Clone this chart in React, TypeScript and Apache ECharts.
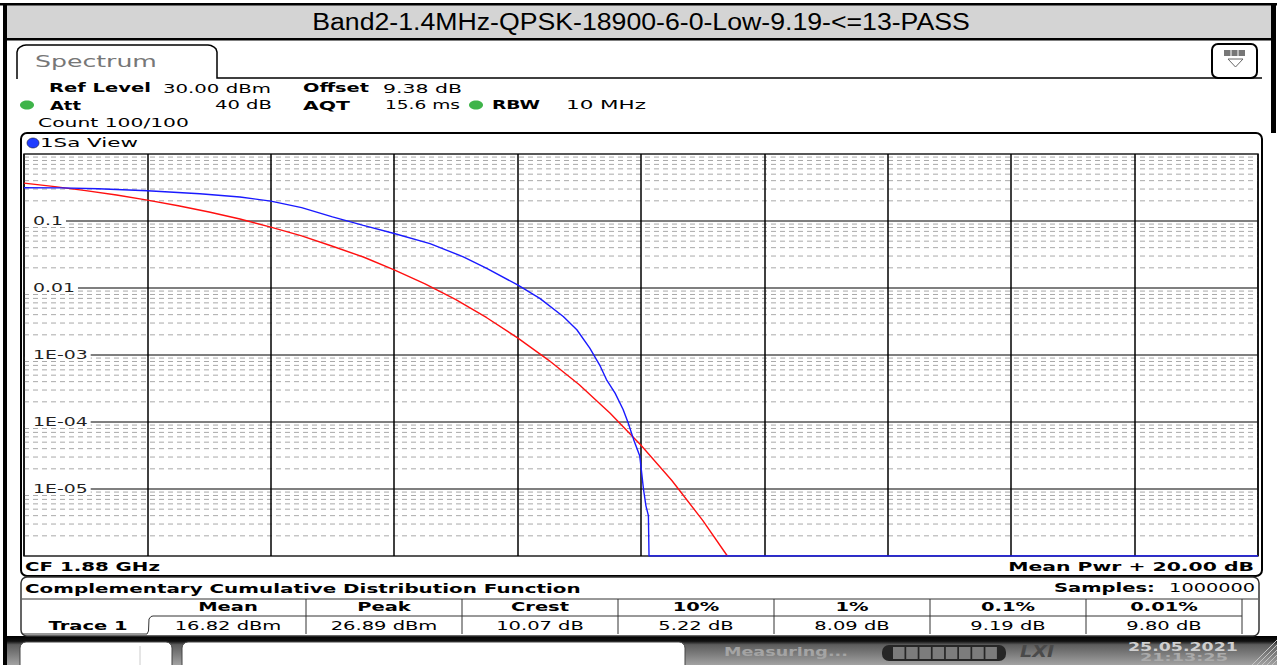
import React, { useEffect, useRef } from 'react';
import * as echarts from 'echarts';

const W = 1277;
const H = 665;

const titleText = 'Band2-1.4MHz-QPSK-18900-6-0-Low-9.19-<=13-PASS';

// x axis: level above mean power, dB (Mean Pwr + 20.00 dB span, 2 dB/div)
const xMin = 0;
const xMax = 20;
const xStep = 2;
// y axis: probability (log)
const yMin = 1e-6;
const yMax = 1;
const yLabelValues = [0.1, 0.01, 0.001, 0.0001, 0.00001];
const yLabelTexts = ['0.1', '0.01', '1E-03', '1E-04', '1E-05'];
const minorMultipliers = [2, 3, 4, 5, 6, 7, 8, 9];
const minorDecades = [1e-6, 1e-5, 1e-4, 1e-3, 1e-2, 1e-1];

// reference (gaussian) curve – red
const refX = [0, 0.5, 1, 1.5, 2, 2.5, 3, 3.5, 4, 4.5, 5, 5.5, 6, 6.5, 7, 7.5, 8, 8.5, 9, 9.5, 10, 10.5, 11, 11.4];
const refP = [0.368, 0.326, 0.284, 0.244, 0.205, 0.169, 0.136, 0.107, 0.081, 0.06, 0.042, 0.029, 0.0187, 0.0115, 0.0067, 0.0036, 0.0018, 0.00084, 0.00036, 0.000135, 0.000045, 0.0000134, 0.0000034, 0.000001];

// measured trace – blue
const trcX = [0, 0.6, 1.2, 2.0, 2.85, 3.5, 4.0, 4.5, 5.0, 5.5, 6.0, 6.58, 7.12, 7.5, 8.0, 8.36, 8.74, 8.96, 9.17, 9.34, 9.44, 9.58, 9.71, 9.79, 9.88, 9.98, 10.01, 10.04, 10.08, 10.12, 10.13, 20];
const trcP = [0.313, 0.312, 0.303, 0.283, 0.255, 0.228, 0.198, 0.158, 0.115, 0.086, 0.065, 0.046, 0.0292, 0.0196, 0.0111, 0.007, 0.00375, 0.00238, 0.00127, 0.00068, 0.00043, 0.00027, 0.000154, 0.000098, 0.000055, 0.000031, 0.0000177, 0.00001, 0.0000056, 0.000004, 0.000001, 0.000001];

// statistics table
const statHeaders = ['Mean', 'Peak', 'Crest', '10%', '1%', '0.1%', '0.01%'];
const statValues = ['16.82 dBm', '26.89 dBm', '10.07 dB', '5.22 dB', '8.09 dB', '9.19 dB', '9.80 dB'];

let mctx: CanvasRenderingContext2D | null = null;
function measure(text: string, font: string): number {
  if (!mctx) mctx = document.createElement('canvas').getContext('2d');
  if (!mctx) return text.length * 8;
  mctx.font = font;
  return mctx.measureText(text).width;
}

type TOpt = {
  align?: 'left' | 'center' | 'right';
  bold?: boolean;
  italic?: boolean;
  size?: number;
  fill?: string;
  family?: string;
  width?: number;
  sx?: number;
  z?: number;
};

function txt(text: string, x: number, y: number, o: TOpt = {}) {
  const size = o.size ?? 13;
  const family = o.family ?? "'DejaVu Sans'";
  const font = `${o.italic ? 'italic ' : ''}${o.bold ? 'bold ' : ''}${size}px ${family}`;
  const w = measure(text, font);
  const sx = o.width ? o.width / w : o.sx ?? 1.5;
  const align = o.align ?? 'left';
  return {
    type: 'text',
    x,
    y,
    scaleX: sx,
    z: o.z ?? 10,
    silent: true,
    style: {
      text,
      font,
      fill: o.fill ?? '#000',
      textAlign: align,
      align,
      textVerticalAlign: 'middle',
      verticalAlign: 'middle',
    },
  };
}

function rect(x: number, y: number, w: number, h: number, style: any, r: any = 0, z = 5) {
  return { type: 'rect', z, silent: true, shape: { x, y, width: w, height: h, r }, style };
}

function line(x1: number, y1: number, x2: number, y2: number, stroke: string, lw = 1, z = 6) {
  return { type: 'line', z, silent: true, shape: { x1, y1, x2, y2 }, style: { stroke, lineWidth: lw } };
}

function chrome(): any[] {
  const els: any[] = [];
  // outer frame + title bar
  els.push(rect(7, 5, 1264, 33, { fill: '#d4d4d4' }));
  els.push(rect(0, 3, W, 2.5, { fill: '#000' }));
  els.push(rect(7, 38, 1264, 2.5, { fill: '#000' }));
  els.push(rect(3, 3, 4, H, { fill: '#000' }));
  els.push(rect(1271, 3, 5, 130, { fill: '#000' }));
  els.push(txt(titleText, 641, 22, { align: 'center', family: "'Liberation Sans', Arial", size: 23, width: 658 }));

  // spectrum tab
  els.push({
    type: 'polyline', z: 6, silent: true,
    shape: { points: [[17, 79], [17, 52], [18, 49], [20, 47], [23, 45.5], [26, 45], [208, 45], [211, 45.5], [214, 47], [216, 49], [217, 52], [217, 78], [1262, 78]] },
    style: { stroke: '#000', lineWidth: 1.5, fill: 'none' },
  });
  els.push(txt('Spectrum', 35, 62, { size: 15, width: 122, fill: '#777' }));
  // menu icon
  els.push(rect(1212, 44, 45, 34, { fill: '#fff', stroke: '#000', lineWidth: 2 }, 6, 7));
  els.push(rect(1224, 50, 21, 6, { fill: '#777' }, 0, 8));
  els.push(line(1231, 50, 1231, 56, '#fff', 1, 9));
  els.push(line(1238, 50, 1238, 56, '#fff', 1, 9));
  els.push({ type: 'polygon', z: 8, silent: true, shape: { points: [[1228, 59], [1243, 59], [1235.5, 67]] }, style: { fill: 'none', stroke: '#666', lineWidth: 1 } });

  // settings header
  els.push(txt('Ref Level', 49, 88, { bold: true, width: 102 }));
  els.push(txt('30.00 dBm', 163, 88, { width: 108 }));
  els.push(txt('Offset', 303, 88, { bold: true, width: 66 }));
  els.push(txt('9.38 dB', 383, 88, { width: 79 }));
  els.push({ type: 'ellipse', z: 8, silent: true, shape: { cx: 27, cy: 105, rx: 7, ry: 4.5 }, style: { fill: '#3fb44a' } });
  els.push(txt('Att', 50, 105, { bold: true, width: 31 }));
  els.push(txt('40 dB', 215, 105, { width: 57 }));
  els.push(txt('AQT', 303, 105, { bold: true, width: 47 }));
  els.push(txt('15.6 ms', 385, 105, { width: 75 }));
  els.push({ type: 'ellipse', z: 8, silent: true, shape: { cx: 476, cy: 105, rx: 7, ry: 4.5 }, style: { fill: '#3fb44a' } });
  els.push(txt('RBW', 492, 105, { bold: true, width: 48 }));
  els.push(txt('10 MHz', 566, 105, { width: 80 }));
  els.push(txt('Count 100/100', 38, 122, { width: 151 }));

  // 1Sa View panel
  els.push(rect(21, 133, 1241, 443, { fill: 'none', stroke: '#000', lineWidth: 2 }, 6, 6));
  els.push({ type: 'ellipse', z: 8, silent: true, shape: { cx: 33, cy: 143, rx: 6, ry: 5 }, style: { fill: '#1f3cff', stroke: '#223', lineWidth: 0.6 } });
  els.push(txt('1Sa View', 40, 143, { width: 98 }));
  els.push(txt('CF 1.88 GHz', 25, 566, { bold: true, width: 135 }));
  els.push(txt('Mean Pwr + 20.00 dB', 1254, 566, { bold: true, align: 'right', width: 246 }));

  // statistics panel
  els.push(rect(21, 577, 1238, 59, { fill: 'none', stroke: '#333', lineWidth: 1.5 }, 6, 6));
  els.push(txt('Complementary Cumulative Distribution Function', 25, 588, { bold: true, width: 556 }));
  els.push(txt('Samples:', 1054, 588, { bold: true, width: 101 }));
  els.push(txt('1000000', 1255, 588, { align: 'right', width: 86 }));
  els.push(line(22, 599, 1258, 599, '#333', 1));
  const colX0 = 150;
  const colW = 156;
  for (let i = 0; i < statHeaders.length - 1; i++) {
    const x = colX0 + colW * (i + 1);
    els.push(line(x, 599, x, 634, '#333', 1));
  }
  els.push(line(colX0 + colW * 7, 599, colX0 + colW * 7, 634, '#333', 1));
  els.push({
    type: 'polyline', z: 6, silent: true,
    shape: { points: [[23, 634], [147, 634], [148.5, 631], [149, 619], [151, 616.5], [153, 616], [1242, 616]] },
    style: { stroke: '#333', lineWidth: 1, fill: 'none' },
  });
  els.push(txt('Trace 1', 88, 626, { bold: true, align: 'center' }));
  statHeaders.forEach((h, i) => {
    const cx = colX0 + colW * i + colW / 2;
    els.push(txt(h, cx, 607, { bold: true, align: 'center' }));
    els.push(txt(statValues[i], cx, 626, { align: 'center' }));
  });

  // status bar
  els.push(rect(7, 636, W - 7, 29, {
    fill: new echarts.graphic.LinearGradient(0, 0, 0, 1, [
      { offset: 0, color: '#000' },
      { offset: 0.18, color: '#111' },
      { offset: 0.3, color: '#5c5c5c' },
      { offset: 1, color: '#a2a2a2' },
    ]),
  }, 0, 4));
  els.push(rect(20, 642, 152, 30, { fill: '#fff', stroke: '#444', lineWidth: 1 }, 6, 6));
  els.push(line(140, 646, 140, 665, '#ccc', 1, 7));
  els.push(rect(182, 642, 503, 30, { fill: '#fff', stroke: '#444', lineWidth: 1 }, 6, 6));
  els.push(txt('Measuring...', 724, 652, { bold: true, size: 12, width: 124, fill: '#a4a4a4' }));
  els.push(rect(882, 645, 124, 16, { fill: '#262626' }, 7, 6));
  for (let i = 0; i < 8; i++) {
    els.push(rect(893 + i * 13.2, 647, 11.5, 12, { fill: '#7c7c7c' }, 0, 7));
  }
  els.push(txt('LXI', 1020, 652, { bold: true, italic: true, size: 16, width: 34, fill: '#4a4a4a' }));
  els.push(txt('25.05.2021', 1128, 647, { bold: true, size: 12, width: 110, fill: '#cfcfcf' }));
  els.push(txt('21:13:25', 1140, 658, { bold: true, size: 10, width: 88, fill: '#ababab' }));
  for (let i = 0; i < 5; i++) {
    els.push(line(1252 + i * 5, 665, 1277, 640 + i * 5, '#c4c4c4', 1, 7));
  }
  return els;
}

export default function App() {
  const ref = useRef<HTMLDivElement>(null);

  useEffect(() => {
    if (!ref.current) return;
    const chart = echarts.init(ref.current, null, { renderer: 'svg', width: W, height: H });

    const minorData: number[][] = [];
    minorDecades.forEach((d) => minorMultipliers.forEach((m) => minorData.push([xMin, m * d])));

    const option: any = {
      animation: false,
      backgroundColor: '#fff',
      grid: { left: 24, top: 154, width: 1234, height: 402, show: true, borderColor: '#333', borderWidth: 1.5, backgroundColor: 'transparent' },
      xAxis: {
        type: 'value', min: xMin, max: xMax, interval: xStep, z: 3,
        axisLine: { show: false }, axisTick: { show: false }, axisLabel: { show: false },
        splitLine: { show: true, lineStyle: { color: '#000', width: 1.5 } },
      },
      yAxis: {
        type: 'log', logBase: 10, min: yMin, max: yMax, splitNumber: 6,
        axisLine: { show: false }, axisTick: { show: false }, axisLabel: { show: false },
        splitLine: { show: true, lineStyle: { color: '#555', width: 1.5 } },
      },
      series: [
        {
          type: 'custom', z: 1, silent: true,
          data: minorData,
          encode: { x: 0, y: 1 },
          renderItem: (params: any, api: any) => {
            const v = api.value(1);
            const p0 = api.coord([xMin, v]);
            const p1 = api.coord([xMax, v]);
            return {
              type: 'line',
              shape: { x1: p0[0], y1: p0[1], x2: p1[0], y2: p1[1] },
              style: { stroke: '#a9a9a9', lineWidth: 1, lineDash: [5, 4] },
            };
          },
        },
        {
          name: 'Reference', type: 'line', z: 5, showSymbol: false, symbol: 'none',
          data: refX.map((x, i) => [x, refP[i]]),
          lineStyle: { color: '#ff1010', width: 1.4 },
        },
        {
          name: 'Trace 1', type: 'line', z: 6, showSymbol: false, symbol: 'none',
          data: trcX.map((x, i) => [x, trcP[i]]),
          lineStyle: { color: '#1a1aff', width: 1.4 },
        },
      ],
    };
    chart.setOption(option);

    const labels: any[] = [];
    yLabelValues.forEach((v, i) => {
      const p = chart.convertToPixel({ gridIndex: 0 }, [xMin, v]) as number[];
      const font = "13px 'DejaVu Sans'";
      const w = measure(yLabelTexts[i], font) * 1.45;
      labels.push(rect(p[0] + 1, p[1] - 6, 8 + w + 3, 12, { fill: '#fff' }, 0, 50));
      labels.push(txt(yLabelTexts[i], p[0] + 9, p[1], { sx: 1.45, fill: '#222', z: 51 }));
    });

    chart.setOption({ graphic: [...chrome(), ...labels] });

    return () => chart.dispose();
  }, []);

  return <div ref={ref} style={{ position: 'fixed', left: 0, top: 0, width: W, height: H, background: '#fff' }} />;
}
